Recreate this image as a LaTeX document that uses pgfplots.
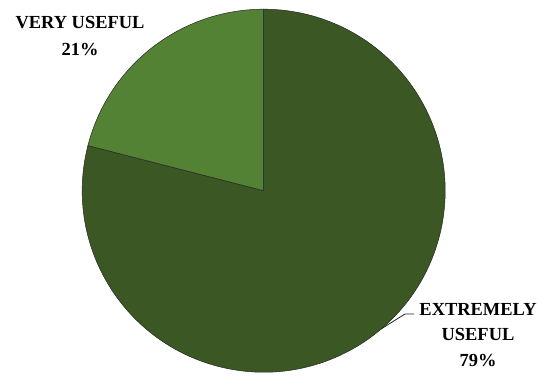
\documentclass[border=0pt]{standalone}
\usepackage{fontspec}
\setmainfont{Liberation Serif}
\usepackage{pgfplots}
\usepackage{pgfplotstable}
\pgfplotsset{compat=1.18}
\definecolor{lightg}{HTML}{548235}
\definecolor{darkg}{HTML}{3A5724}
\definecolor{teal}{HTML}{1C3C40}
\pgfplotstableread{
label value
VeryUseful 21
ExtremelyUseful 79
}\piedata
\begin{document}
\begin{tikzpicture}
\pgfplotstablegetelem{0}{value}\of\piedata \let\va\pgfplotsretval
\pgfplotstablegetelem{1}{value}\of\piedata \let\vb\pgfplotsretval
\pgfmathsetmacro\aone{90+3.6*\va}
\pgfmathsetmacro\atwo{\aone+3.6*\vb}
\begin{axis}[
  width=543bp, height=377bp, scale only axis,
  xmin=0, xmax=543, ymin=0, ymax=377,
  hide axis, clip=false,
]
\path (axis cs:0,0) rectangle (axis cs:543,377);
\fill[darkg, draw=black!85, line width=0.5pt] (axis cs:263.7,186.3) -- ++(\aone:181.5bp) arc[start angle=\aone, end angle=\atwo, radius=181.5bp] -- cycle;
\fill[lightg, draw=black!85, line width=0.5pt] (axis cs:263.7,186.3) -- ++(90:181.5bp) arc[start angle=90, end angle=\aone, radius=181.5bp] -- cycle;
\draw[teal, line width=1.3pt] (axis cs:263.7,186.3) -- (axis cs:263.7,367.8);
\draw[black!85, line width=0.8pt] (axis cs:381,48) -- (axis cs:405,63) -- (axis cs:414,63);
\node[align=center, font=\bfseries\fontsize{18.5}{27}\selectfont] at (axis cs:80,341) {VERY USEFUL\\21\%};
\node[align=center, font=\bfseries\fontsize{18.5}{25.5}\selectfont] at (axis cs:478,42) {EXTREMELY\\USEFUL\\79\%};
\end{axis}
\end{tikzpicture}
\end{document}
